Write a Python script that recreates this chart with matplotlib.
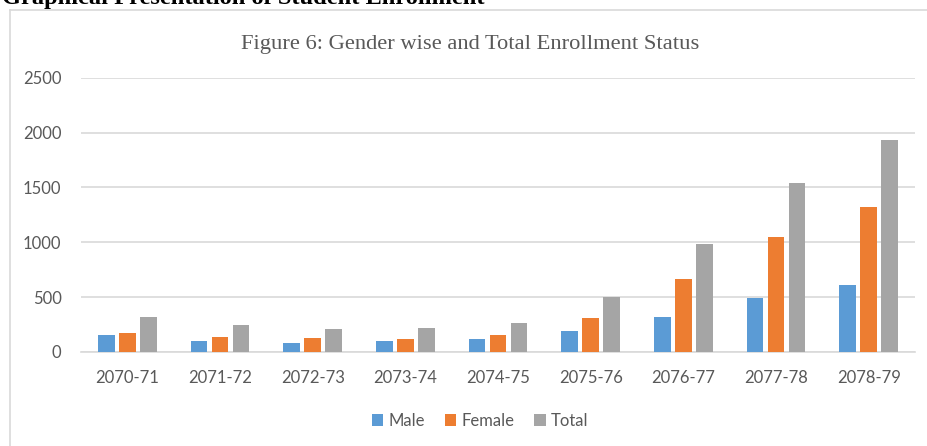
import matplotlib
matplotlib.use("Agg")
import matplotlib.pyplot as plt
import numpy as np
from matplotlib.lines import Line2D
from matplotlib.patches import Patch

categories = ["2070-71", "2071-72", "2072-73", "2073-74", "2074-75",
              "2075-76", "2076-77", "2077-78", "2078-79"]
male = [151, 98, 80, 98, 115, 188, 315, 495, 613]
female = [169, 138, 126, 117, 155, 312, 661, 1044, 1317]
total = [322, 243, 209, 221, 267, 497, 983, 1539, 1931]
series_names = ["Male", "Female", "Total"]
y_ticks = [0, 500, 1000, 1500, 2000, 2500]

colors = ["#5B9BD5", "#ED7D31", "#A5A5A5"]
text_color = "#595959"
grid_color = "#D9D9D9"

W, H = 927, 446
fig = plt.figure(figsize=(W / 100, H / 100), dpi=100)
fig.patch.set_facecolor("white")

ax = fig.add_axes([81 / W, 1 - 352 / H, (915 - 81) / W, (352 - 77.7) / H])

x = np.arange(len(categories))
bw = 0.18
step = 0.227
for i, (vals, name) in enumerate(zip([male, female, total], series_names)):
    ax.bar(x + (i - 1) * step, vals, width=bw, color=colors[i], label=name, zorder=3)

ax.set_xlim(-0.5, len(categories) - 0.5)
ax.set_ylim(0, 2500)
ax.set_yticks(y_ticks)
ax.set_xticks(x)
ax.set_xticklabels(categories)
ax.yaxis.grid(True, color=grid_color, linewidth=1.2, zorder=0)
ax.set_axisbelow(True)
for s in ["top", "right", "left"]:
    ax.spines[s].set_visible(False)
ax.spines["bottom"].set_color(grid_color)
ax.spines["bottom"].set_linewidth(1.2)
ax.tick_params(axis="both", length=0, colors=text_color, labelsize=12)
ax.tick_params(axis="y", pad=14)
ax.tick_params(axis="x", pad=13)
for lab in ax.get_xticklabels() + ax.get_yticklabels():
    lab.set_fontfamily("Lato")

fig.text(470 / W, 1 - 44 / H, "Figure 6: Gender wise and Total Enrollment Status",
         ha="center", va="center", fontsize=16.2, family="Liberation Serif",
         color=text_color)

fig.text(2 / W, 1 - 4 / H, "Graphical Presentation of Student Enrollment",
         ha="left", va="baseline", fontsize=17.6, family="Liberation Serif",
         fontweight="bold", color="black")

handles = [Patch(facecolor=c, label=n) for c, n in zip(colors, series_names)]
leg = fig.legend(handles=handles, loc="center", bbox_to_anchor=(480 / W, 1 - 421 / H),
                 ncol=3, frameon=False, handlelength=0.7, handleheight=0.7,
                 handletextpad=0.3, columnspacing=1.2,
                 prop={"family": "Lato", "size": 12})
for t in leg.get_texts():
    t.set_color(text_color)

fig.add_artist(Line2D([9.5 / W, 1.0], [1 - 9.5 / H, 1 - 9.5 / H], color=grid_color,
                      linewidth=1.2, transform=fig.transFigure))
fig.add_artist(Line2D([9.5 / W, 9.5 / W], [1 - 9.5 / H, 0.0], color=grid_color,
                      linewidth=1.2, transform=fig.transFigure))

fig.savefig("out.png", dpi=100)
